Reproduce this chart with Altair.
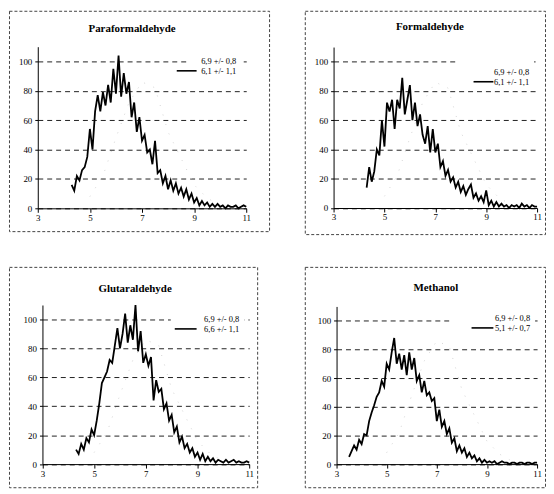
import altair as alt
import pandas as pd

FONT = "Liberation Serif"

# ---------------- data ----------------
titles = ["Paraformaldehyde", "Formaldehyde", "Glutaraldehyde", "Methanol"]
legend_ref = "6,9 +/- 0,8"
legend_main = ["6,1 +/- 1,1", "6,1 +/- 1,1", "6,6 +/- 1,1", "5,1 +/- 0,7"]
x_ticks = [3, 5, 7, 9, 11]
y_ticks = [0, 20, 40, 60, 80, 100]

# x of the first sample (samples every 0.1)
starts = [4.3, 4.3, 4.3, 3.5]

para_y = [16, 12, 22, 19, 26, 28, 35, 54, 40, 66, 77, 66, 79, 70, 84, 72, 95, 78, 104, 76,
          92, 78, 86, 62, 72, 52, 62, 46, 50, 38, 40, 30, 46, 24, 26, 17, 22, 13, 19, 12,
          17, 10, 14, 8, 13, 6, 10, 4, 7, 2, 5, 2, 4, 1, 3, 1, 3, 1, 2, 0,
          2, 1, 1, 2, 0, 1, 2, 1]
form_y = [14, 28, 18, 25, 40, 36, 60, 42, 72, 66, 74, 54, 74, 68, 89, 64, 74, 84, 60, 72,
          56, 64, 50, 44, 56, 38, 54, 38, 44, 28, 32, 22, 26, 18, 21, 14, 18, 11, 15, 9,
          13, 16, 7, 10, 5, 8, 4, 12, 2, 5, 1, 4, 1, 3, 1, 2, 0, 2, 1, 2,
          0, 3, 1, 2, 0, 2, 1, 1]
glut_y = [10, 7, 14, 10, 18, 15, 24, 20, 30, 42, 56, 60, 64, 72, 70, 82, 94, 80, 90, 104,
          84, 96, 86, 110, 78, 92, 70, 76, 68, 74, 44, 58, 50, 52, 38, 42, 30, 34, 22, 26,
          15, 19, 11, 14, 8, 11, 5, 8, 3, 7, 2, 5, 2, 4, 1, 3, 2, 1, 3, 1,
          2, 3, 1, 2, 1, 1, 2, 1]
meth_y = [5, 9, 13, 10, 17, 14, 21, 20, 30, 36, 41, 47, 50, 58, 54, 70, 66, 78, 88, 70,
          77, 66, 76, 62, 78, 66, 74, 58, 62, 50, 58, 48, 50, 44, 46, 30, 38, 26, 30, 21,
          25, 15, 18, 9, 13, 8, 11, 5, 8, 4, 6, 2, 4, 1, 3, 1, 2, 1, 2, 0,
          1, 2, 1, 1, 0, 1, 1, 0, 1, 1, 0, 1, 1, 0, 1, 1]
series = [para_y, form_y, glut_y, meth_y]

# faint reference curve (6,9 +/- 0,8), only a few dots visible
ref_x = [5.0, 5.5, 6.0, 6.5, 7.0, 7.5, 8.0, 8.5, 9.0, 9.5, 10.0]
ref_y = [8, 22, 48, 72, 86, 82, 52, 34, 16, 7, 2]

# ---------------- layout (pixels inside each framed panel) ----------------
geoms = [
    dict(w=262, h=222, x3=29, x11=239, y0=199, y100=51, tx=124, ty=18, lr=229, l1=51,
         r0=169, r1=189, bx=181, by=46),
    dict(w=242, h=225, x3=29, x11=234, y0=198.7, y100=51.3, tx=126, ty=16, lr=226, l1=62,
         r0=170, r1=190, bx=153, by=40),
    dict(w=250, h=222, x3=33.7, x11=242, y0=198.7, y100=53, tx=127, ty=22, lr=232, l1=53,
         r0=167, r1=189, bx=163, by=48),
    dict(w=242, h=222, x3=32, x11=234, y0=198.7, y100=54.3, tx=132, ty=21, lr=227, l1=52,
         r0=168, r1=190, bx=146, by=47),
]
LEG_GAP = 9.5


def panel(title, start, ys, leg, g):
    w, h = g["w"], g["h"]
    y110 = g["y100"] - (g["y0"] - g["y100"]) * 0.1
    l1 = g["l1"]
    l2 = l1 + LEG_GAP
    xs = [round(start + 0.1 * i, 2) for i in range(len(ys))]
    main = pd.DataFrame({"x": xs, "y": ys})
    ref = pd.DataFrame({"x": ref_x, "y": ref_y})

    X = alt.X("x:Q",
              scale=alt.Scale(domain=[3, 11], range=[g["x3"], g["x11"]], nice=False, zero=False),
              axis=alt.Axis(values=x_ticks, grid=False, offset=-(h - g["y0"]), title=None,
                            labelFlush=False, tickSize=4, labelPadding=1,
                            domainColor="black", tickColor="black"))
    Y = alt.Y("y:Q",
              scale=alt.Scale(domain=[0, 110], range=[g["y0"], y110], nice=False),
              axis=alt.Axis(values=y_ticks, grid=True, offset=-g["x3"], title=None,
                            labelFlush=False, tickSize=3, labelPadding=3,
                            gridDash=[5, 4], gridColor="#222222", gridWidth=1,
                            domainColor="black", tickColor="black"))

    ref_line = alt.Chart(ref).mark_line(color="#d4d4d4", strokeDash=[1, 9], strokeWidth=1).encode(x=X, y=Y)
    main_line = alt.Chart(main).mark_line(color="black", strokeWidth=1.8).encode(x=X, y=Y)

    one = pd.DataFrame({"t": [title]})
    ttl = alt.Chart(one).mark_text(
        font=FONT, fontSize=11, fontWeight="bold", color="black", align="center", baseline="middle"
    ).encode(text="t:N", x=alt.value(g["tx"]), y=alt.value(g["ty"]))
    box = alt.Chart(one).mark_rect(fill="white").encode(
        x=alt.value(g["bx"]), x2=alt.value(g["lr"] + 5),
        y=alt.value(g["by"]), y2=alt.value(l2 + 5))
    lt1 = alt.Chart(pd.DataFrame({"t": [legend_ref]})).mark_text(
        font=FONT, fontSize=8.5, color="black", align="right", baseline="middle"
    ).encode(text="t:N", x=alt.value(g["lr"]), y=alt.value(l1))
    lt2 = alt.Chart(pd.DataFrame({"t": [leg]})).mark_text(
        font=FONT, fontSize=8.5, color="black", align="right", baseline="middle"
    ).encode(text="t:N", x=alt.value(g["lr"]), y=alt.value(l2))
    lrule = alt.Chart(one).mark_rule(color="black", strokeWidth=1.6).encode(
        x=alt.value(g["r0"]), x2=alt.value(g["r1"]), y=alt.value(l2))

    return alt.layer(ref_line, main_line, box, ttl, lt1, lt2, lrule).properties(width=w, height=h)


panels = [panel(titles[i], starts[i], series[i], legend_main[i], geoms[i]) for i in range(4)]

row1 = alt.hconcat(panels[0], panels[1], spacing=34).resolve_scale(x="independent", y="independent")
row2 = alt.hconcat(panels[2], panels[3], spacing=46).resolve_scale(x="independent", y="independent")

chart = alt.vconcat(row1, row2, spacing=31).resolve_scale(
    x="independent", y="independent"
).properties(padding=0, background="white").configure_view(
    stroke="#444444", strokeDash=[3, 2], strokeWidth=1
).configure_axis(
    labelFont=FONT, labelFontSize=9, labelColor="black", domainWidth=1, tickWidth=1
)

chart.save("out.html", embed_options={"renderer": "svg", "actions": False})
